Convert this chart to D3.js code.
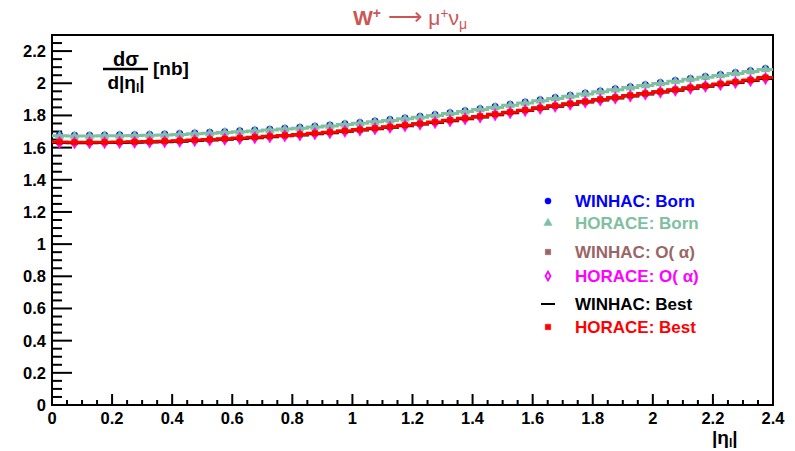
<!DOCTYPE html>
<html><head><meta charset="utf-8">
<script src="https://cdn.jsdelivr.net/npm/d3@7"></script>
<style>body{margin:0;background:#fff}svg{display:block}text{font-family:"Liberation Sans",Arial,sans-serif}</style>
</head><body><svg id="c" width="795" height="451"></svg>
<script>
// bin centres of |eta_l| (bin width 0.05)
const etaBins = [0.025,0.075,0.125,0.175,0.225,0.275,0.325,0.375,0.425,0.475,0.525,0.575,0.625,0.675,0.725,0.775,0.825,0.875,0.925,0.975,1.025,1.075,1.125,1.175,1.225,1.275,1.325,1.375,1.425,1.475,1.525,1.575,1.625,1.675,1.725,1.775,1.825,1.875,1.925,1.975,2.025,2.075,2.125,2.175,2.225,2.275,2.325,2.375];
const winhacBorn = [1.679,1.677,1.677,1.678,1.679,1.680,1.682,1.684,1.687,1.691,1.695,1.699,1.704,1.709,1.714,1.720,1.726,1.733,1.740,1.748,1.756,1.765,1.774,1.784,1.794,1.805,1.817,1.829,1.842,1.855,1.869,1.883,1.897,1.911,1.925,1.939,1.952,1.965,1.978,1.991,2.004,2.017,2.030,2.042,2.054,2.066,2.078,2.091];
const horaceBorn = [1.673,1.672,1.672,1.673,1.674,1.675,1.677,1.679,1.682,1.686,1.690,1.694,1.699,1.704,1.709,1.715,1.721,1.728,1.735,1.743,1.751,1.760,1.769,1.779,1.789,1.800,1.812,1.824,1.837,1.850,1.864,1.878,1.892,1.906,1.920,1.934,1.947,1.960,1.973,1.986,1.999,2.012,2.025,2.037,2.049,2.061,2.073,2.086];
const winhacOa = [1.636,1.634,1.634,1.635,1.636,1.637,1.639,1.641,1.644,1.648,1.652,1.656,1.661,1.666,1.671,1.677,1.683,1.690,1.697,1.705,1.713,1.721,1.730,1.740,1.750,1.760,1.771,1.783,1.795,1.808,1.821,1.834,1.848,1.861,1.874,1.887,1.900,1.912,1.925,1.937,1.949,1.961,1.973,1.985,1.997,2.009,2.021,2.034];
const horaceOa = [1.632,1.630,1.630,1.631,1.632,1.633,1.635,1.637,1.640,1.644,1.648,1.652,1.657,1.662,1.667,1.673,1.679,1.686,1.693,1.701,1.709,1.717,1.726,1.736,1.746,1.756,1.767,1.779,1.791,1.804,1.817,1.830,1.844,1.857,1.870,1.883,1.896,1.908,1.921,1.933,1.945,1.957,1.969,1.981,1.993,2.005,2.017,2.030];
const winhacBest = [1.632,1.630,1.630,1.631,1.632,1.633,1.635,1.637,1.640,1.644,1.648,1.652,1.657,1.662,1.667,1.673,1.679,1.686,1.693,1.701,1.709,1.717,1.726,1.736,1.746,1.756,1.767,1.779,1.791,1.804,1.817,1.830,1.844,1.857,1.870,1.883,1.896,1.908,1.921,1.933,1.945,1.957,1.969,1.981,1.993,2.005,2.017,2.030];
const horaceBest = [1.635,1.633,1.633,1.634,1.635,1.636,1.638,1.640,1.643,1.647,1.651,1.655,1.660,1.665,1.670,1.676,1.682,1.689,1.696,1.704,1.712,1.720,1.729,1.739,1.749,1.759,1.770,1.782,1.794,1.807,1.820,1.833,1.847,1.860,1.873,1.886,1.899,1.911,1.924,1.936,1.948,1.960,1.972,1.984,1.996,2.008,2.020,2.036];
const xTicks = [0,0.2,0.4,0.6,0.8,1,1.2,1.4,1.6,1.8,2,2.2,2.4];
const yTicks = [0,0.2,0.4,0.6,0.8,1,1.2,1.4,1.6,1.8,2,2.2];
const binW = 0.05;

const svg = d3.select("#c");
const L=52, R=773, T=35, B=405;
const x = d3.scaleLinear().domain([0,2.4]).range([L,R]);
const y = d3.scaleLinear().domain([0,2.3]).range([B,T]);

// frame
svg.append("rect").attr("x",L).attr("y",T).attr("width",R-L).attr("height",B-T)
  .attr("fill","none").attr("stroke","#000").attr("stroke-width",2);

const isMajor = d => Math.abs(d/0.2-Math.round(d/0.2))<1e-6;
// y axis ticks (inward)
const yMinor = d3.range(0,2.3001,0.05);
svg.append("g").selectAll("line").data(yMinor).join("line")
  .attr("x1",L).attr("x2",d=>L+(isMajor(d)?20:10))
  .attr("y1",d=>y(d)).attr("y2",d=>y(d)).attr("stroke","#000").attr("stroke-width",2);
svg.append("g").selectAll("text").data(yTicks).join("text")
  .attr("x",L-6).attr("y",d=>y(d)+6).attr("text-anchor","end")
  .attr("font-size",16.5).attr("font-weight","bold").text(d=>+d.toFixed(1));
// x axis ticks
const xMinor = d3.range(0,2.4001,0.05);
svg.append("g").selectAll("line").data(xMinor).join("line")
  .attr("y1",B).attr("y2",d=>B-(isMajor(d)?11:5))
  .attr("x1",d=>x(d)).attr("x2",d=>x(d)).attr("stroke","#000").attr("stroke-width",2);
svg.append("g").selectAll("text").data(xTicks).join("text")
  .attr("x",d=>x(d)).attr("y",B+19).attr("text-anchor","middle")
  .attr("font-size",16.5).attr("font-weight","bold").text(d=>+d.toFixed(1));

svg.append("defs").append("clipPath").attr("id","pc").append("rect")
  .attr("x",L).attr("y",T).attr("width",R-L).attr("height",B-T);
const g = svg.append("g").attr("clip-path","url(#pc)");

function stepPath(vals){
  let p="";
  vals.forEach((v,i)=>{
    const x0=x(etaBins[i]-binW/2), x1=x(etaBins[i]+binW/2);
    p += (i===0?"M":"L")+x0+","+y(v)+"L"+x1+","+y(v);
  });
  return p;
}
function markers(vals,type,size,color,fill){
  g.append("g").selectAll("path").data(vals).join("path")
    .attr("transform",(d,i)=>`translate(${x(etaBins[i])},${y(d)})`)
    .attr("d",d3.symbol().type(type).size(size))
    .attr("fill",fill?color:"none").attr("stroke",color).attr("stroke-width",fill?0.5:1.5);
}
// WINHAC Born: blue circles
markers(winhacBorn,d3.symbolCircle,34,"#0000ff",true);
// HORACE Born: teal line + triangles
g.append("path").attr("d",stepPath(horaceBorn)).attr("fill","none").attr("stroke","#80c0a0").attr("stroke-width",3);
markers(horaceBorn,d3.symbolTriangle,34,"#80c0a0",true);
// HORACE O(alpha): magenta diamonds
markers(horaceOa,d3.symbolDiamond,45,"#ff00ff",true);
// WINHAC O(alpha): brown squares
markers(winhacOa,d3.symbolSquare,30,"#996666",true);
// WINHAC Best: black line
g.append("path").attr("d",stepPath(winhacBest)).attr("fill","none").attr("stroke","#000").attr("stroke-width",3);
// HORACE Best: red line + squares
g.append("path").attr("d",stepPath(horaceBest)).attr("fill","none").attr("stroke","#ff0000").attr("stroke-width",3);
markers(horaceBest,d3.symbolSquare,30,"#ff0000",true);

// legend
const legend = [
  {label:"WINHAC: Born", color:"#0000ff", sym:"circle", yy:201},
  {label:"HORACE: Born", color:"#80c0a0", sym:"triangle", yy:223},
  {label:"WINHAC: O( \u03b1)", color:"#996666", sym:"square", yy:252},
  {label:"HORACE: O( \u03b1)", color:"#ff00ff", sym:"diamond", yy:276},
  {label:"WINHAC: Best", color:"#000000", sym:"line", yy:304},
  {label:"HORACE: Best", color:"#ff0000", sym:"square", yy:327}
];
const lg = svg.append("g");
legend.forEach(e=>{
  const mx=548;
  if(e.sym==="line"){
    lg.append("line").attr("x1",mx-7).attr("x2",mx+7).attr("y1",e.yy).attr("y2",e.yy).attr("stroke",e.color).attr("stroke-width",2);
  } else {
    const t={circle:d3.symbolCircle,triangle:d3.symbolTriangle,square:d3.symbolSquare,diamond:d3.symbolDiamond}[e.sym];
    const hollow = e.sym==="diamond";
    lg.append("path").attr("transform",`translate(${mx},${e.yy})`)
      .attr("d",d3.symbol().type(t).size(hollow?22:30))
      .attr("fill",hollow?"none":e.color).attr("stroke",e.color).attr("stroke-width",hollow?1.8:0.5);
  }
  lg.append("text").attr("x",575).attr("y",e.yy+6).attr("font-size",17).attr("font-weight","bold")
    .attr("fill",e.color).text(e.label);
});

// title
const tt = svg.append("text").attr("x",410).attr("y",25).attr("text-anchor","middle")
  .attr("fill","#cc5555").attr("font-size",21);
tt.append("tspan").attr("font-weight","bold").text("W");
tt.append("tspan").attr("font-weight","bold").attr("font-size",14).attr("dy",-7).text("+");
tt.append("tspan").attr("dy",7).attr("font-size",24).text(" \u27f6 ");
tt.append("tspan").text("\u03bc");
tt.append("tspan").attr("font-size",14).attr("dy",-7).text("+");
tt.append("tspan").attr("dy",7).text("\u03bd");
tt.append("tspan").attr("font-size",14).attr("dy",4).text("\u03bc");

// y label
svg.append("text").attr("x",126).attr("y",66).attr("text-anchor","middle").attr("font-size",20).attr("font-weight","bold").text("d\u03c3");
svg.append("line").attr("x1",103).attr("x2",148).attr("y1",69).attr("y2",69).attr("stroke","#000").attr("stroke-width",2.5);
const dl = svg.append("text").attr("x",126).attr("y",89).attr("text-anchor","middle").attr("font-size",19).attr("font-weight","bold");
dl.append("tspan").text("d|\u03b7");
dl.append("tspan").attr("font-size",12).attr("dy",3).text("l");
dl.append("tspan").attr("dy",-3).text("|");
svg.append("text").attr("x",153).attr("y",75).attr("font-size",19).attr("font-weight","bold").text("[nb]");

// x label
const xl = svg.append("text").attr("x",712).attr("y",444).attr("font-size",19).attr("font-weight","bold");
xl.append("tspan").text("|\u03b7");
xl.append("tspan").attr("font-size",12).attr("dy",3).text("l");
xl.append("tspan").attr("dy",-3).text("|");
</script></body></html>
